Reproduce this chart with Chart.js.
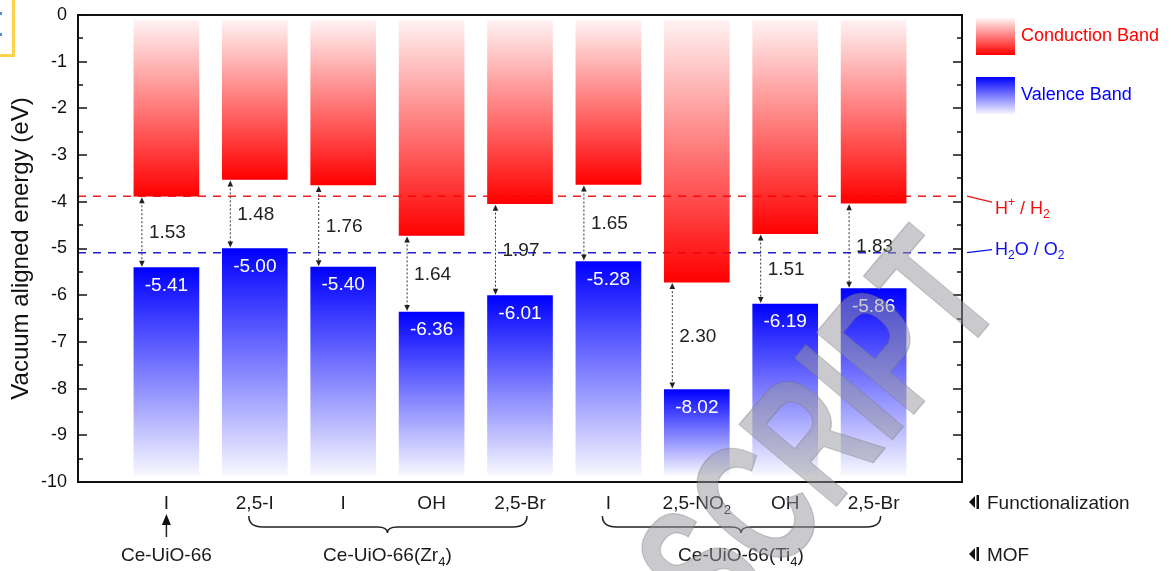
<!DOCTYPE html>
<html lang="en">
<head>
<meta charset="UTF-8">
<title>Band alignment of Ce-UiO-66 derivatives</title>
<script src="https://cdn.jsdelivr.net/npm/chart.js@4.4.1/dist/chart.umd.min.js"></script>
<style>
  html, body { margin: 0; padding: 0; background: #fff; }
  #wrap { width: 1171px; height: 571px; }
</style>
</head>
<body>
<div id="wrap"><canvas id="bandChart"></canvas></div>
<script>
// x order of the materials ("_x" = subscript, "^x" = superscript)
const functionalization = ['I', '2,5-I', 'I', 'OH', '2,5-Br', 'I', '2,5-NO_2', 'OH', '2,5-Br'];
// band edges, eV vs vacuum
const conductionBand = [-3.88, -3.52, -3.64, -4.72, -4.04, -3.63, -5.72, -4.68, -4.03];
const valenceBand = [-5.41, -5.00, -5.40, -6.36, -6.01, -5.28, -8.02, -6.19, -5.86];
const bandGap = [1.53, 1.48, 1.76, 1.64, 1.97, 1.65, 2.30, 1.51, 1.83];
// where the faded ends of the bars stop
const bandTop = -0.12;
const bandBottom = -9.85;
// redox levels
const refNames = ['H^+ / H_2', 'H_2O / O_2'];
const refValues = [-3.88, -5.09];
// MOF families (first / last index in the lists above)
const mofNames = ['Ce-UiO-66', 'Ce-UiO-66(Zr_4)', 'Ce-UiO-66(Ti_4)'];
const mofFirst = [0, 1, 5];
const mofLast = [0, 4, 8];
const yTicks = [0, -1, -2, -3, -4, -5, -6, -7, -8, -9, -10];

const FONT = '"Liberation Sans", Arial, sans-serif';
const RED = '#ff0000';
const BLUE = '#0000ff';
const BAR_W = 65;

Chart.defaults.font.family = FONT;

// text with one-character sub/superscripts, y is the baseline
function richText(ctx, str, x, y, size, align, color) {
  const parts = [];
  for (let i = 0; i < str.length; i++) {
    const ch = str[i];
    if ((ch === '_' || ch === '^') && i + 1 < str.length) {
      parts.push({ t: str[i + 1], m: ch });
      i++;
    } else {
      const last = parts[parts.length - 1];
      if (last && last.m === '') last.t += ch;
      else parts.push({ t: ch, m: '' });
    }
  }
  const small = Math.round(size * 0.68);
  let w = 0;
  parts.forEach(p => {
    ctx.font = (p.m ? small : size) + 'px ' + FONT;
    p.w = ctx.measureText(p.t).width;
    w += p.w;
  });
  let cx = align === 'center' ? x - w / 2 : align === 'right' ? x - w : x;
  ctx.fillStyle = color;
  ctx.textAlign = 'left';
  ctx.textBaseline = 'alphabetic';
  parts.forEach(p => {
    ctx.font = (p.m ? small : size) + 'px ' + FONT;
    const dy = p.m === '_' ? size * 0.26 : p.m === '^' ? -size * 0.4 : 0;
    ctx.fillText(p.t, cx, y + dy);
    cx += p.w;
  });
}

function cbFill(c) {
  const chart = c.chart;
  if (!chart.chartArea || c.dataIndex === undefined) return 'rgba(255,0,0,0.6)';
  const y = chart.scales.y;
  const g = chart.ctx.createLinearGradient(0, y.getPixelForValue(bandTop), 0, y.getPixelForValue(conductionBand[c.dataIndex]));
  g.addColorStop(0, 'rgba(255,0,0,0.05)');
  g.addColorStop(1, 'rgba(255,0,0,1)');
  return g;
}

function vbFill(c) {
  const chart = c.chart;
  if (!chart.chartArea || c.dataIndex === undefined) return 'rgba(0,0,255,0.6)';
  const y = chart.scales.y;
  const g = chart.ctx.createLinearGradient(0, y.getPixelForValue(valenceBand[c.dataIndex]), 0, y.getPixelForValue(bandBottom));
  g.addColorStop(0, 'rgba(0,0,255,1)');
  g.addColorStop(1, 'rgba(0,0,255,0.03)');
  return g;
}

function arrowHead(ctx, x, y, dir) {
  ctx.beginPath();
  ctx.moveTo(x, y);
  ctx.lineTo(x - 2.8, y - dir * 6);
  ctx.lineTo(x + 2.8, y - dir * 6);
  ctx.closePath();
  ctx.fill();
}

// dashed redox levels, behind the bars
const levelLines = {
  id: 'levelLines',
  beforeDatasetsDraw(chart) {
    const { ctx, chartArea: a, scales: { y } } = chart;
    ctx.save();
    ctx.lineWidth = 1.5;
    ctx.setLineDash([8, 7]);
    refValues.forEach((v, i) => {
      const py = y.getPixelForValue(v);
      ctx.strokeStyle = i === 0 ? '#f02020' : '#2020cc';
      ctx.beginPath();
      ctx.moveTo(a.left, py);
      ctx.lineTo(a.right, py);
      ctx.stroke();
    });
    ctx.restore();
  }
};

const decorations = {
  id: 'decorations',
  afterDraw(chart) {
    const { ctx, chartArea: a, scales: { x, y } } = chart;
    ctx.save();

    // frame with inward ticks
    ctx.strokeStyle = '#111';
    ctx.lineWidth = 2;
    ctx.strokeRect(a.left, a.top, a.right - a.left, a.bottom - a.top);
    ctx.lineWidth = 1.5;
    for (let v = 0; v >= -10; v -= 0.5) {
      const py = Math.round(y.getPixelForValue(v));
      const len = Number.isInteger(v) ? 9 : 5;
      ctx.beginPath();
      ctx.moveTo(a.left, py); ctx.lineTo(a.left + len, py);
      ctx.moveTo(a.right, py); ctx.lineTo(a.right - len, py);
      ctx.stroke();
    }

    // band gap arrows and labels
    valenceBand.forEach((vb, i) => {
      const cx = x.getPixelForValue(i + 1);
      const ax = cx - BAR_W / 2 + 8;
      const y1 = y.getPixelForValue(conductionBand[i]);
      const y2 = y.getPixelForValue(vb);
      ctx.strokeStyle = '#333';
      ctx.fillStyle = '#222';
      ctx.lineWidth = 1;
      ctx.setLineDash([2, 2]);
      ctx.beginPath();
      ctx.moveTo(ax, y1 + 5);
      ctx.lineTo(ax, y2 - 5);
      ctx.stroke();
      ctx.setLineDash([]);
      arrowHead(ctx, ax, y1 + 1, -1);
      arrowHead(ctx, ax, y2 - 1, 1);

      ctx.font = '19px ' + FONT;
      ctx.textAlign = 'left';
      ctx.textBaseline = 'middle';
      ctx.fillStyle = '#222';
      ctx.fillText(bandGap[i].toFixed(2), ax + 7, (y1 + y2) / 2 + 1);

      ctx.textAlign = 'center';
      ctx.fillStyle = '#fff';
      ctx.fillText(vb.toFixed(2), cx, y2 + 18);
    });

    // functionalization labels under the axis
    functionalization.forEach((f, i) => {
      richText(ctx, f, x.getPixelForValue(i + 1), 509, 19, 'center', '#1a1a1a');
    });

    // MOF families
    ctx.strokeStyle = '#222';
    ctx.fillStyle = '#111';
    ctx.lineWidth = 1.5;
    mofNames.forEach((name, k) => {
      const x1 = x.getPixelForValue(mofFirst[k] + 1);
      const x2 = x.getPixelForValue(mofLast[k] + 1);
      const xm = (x1 + x2) / 2;
      if (mofFirst[k] === mofLast[k]) {
        ctx.beginPath();
        ctx.moveTo(xm, 537);
        ctx.lineTo(xm, 522);
        ctx.stroke();
        ctx.beginPath();
        ctx.moveTo(xm, 514);
        ctx.lineTo(xm - 4.5, 525);
        ctx.lineTo(xm + 4.5, 525);
        ctx.closePath();
        ctx.fill();
      } else {
        const l = x1 - 6, r = x2 + 7, y0 = 516, yb = 527, yt = 533, rr = 14;
        ctx.beginPath();
        ctx.moveTo(l, y0);
        ctx.quadraticCurveTo(l, yb, l + rr, yb);
        ctx.lineTo(xm - 10, yb);
        ctx.quadraticCurveTo(xm, yb, xm, yt);
        ctx.quadraticCurveTo(xm, yb, xm + 10, yb);
        ctx.lineTo(r - rr, yb);
        ctx.quadraticCurveTo(r, yb, r, y0);
        ctx.stroke();
      }
      richText(ctx, name, xm, 561, 19, 'center', '#1a1a1a');
    });

    // row captions on the right
    [502, 554].forEach((cy, k) => {
      ctx.fillStyle = '#111';
      ctx.beginPath();
      ctx.moveTo(975, cy - 6);
      ctx.lineTo(975, cy + 6);
      ctx.lineTo(969, cy);
      ctx.closePath();
      ctx.fill();
      ctx.fillRect(976.5, cy - 7, 2.5, 14);
      richText(ctx, k === 0 ? 'Functionalization' : 'MOF', 987, cy + 7, 19, 'left', '#1a1a1a');
    });

    // redox level labels with leader lines
    refValues.forEach((v, i) => {
      const py = y.getPixelForValue(v);
      const col = i === 0 ? '#f01010' : '#1010ee';
      const ty = i === 0 ? 207 : 248;
      ctx.strokeStyle = col;
      ctx.lineWidth = 1.2;
      ctx.beginPath();
      ctx.moveTo(a.right + 5, py);
      ctx.lineTo(a.right + 30, i === 0 ? py + 6 : py - 3);
      ctx.stroke();
      richText(ctx, refNames[i], 995, ty + 6.5, 18, 'left', col);
    });

    // legend
    const boxes = [
      { top: 18, label: chart.data.datasets[0].label, col: RED, down: true },
      { top: 77, label: chart.data.datasets[1].label, col: BLUE, down: false }
    ];
    boxes.forEach(b => {
      const g = ctx.createLinearGradient(0, b.top, 0, b.top + 37);
      const solid = b.col === RED ? 'rgba(255,0,0,1)' : 'rgba(0,0,255,1)';
      const faint = b.col === RED ? 'rgba(255,0,0,0.04)' : 'rgba(0,0,255,0.04)';
      g.addColorStop(0, b.down ? faint : solid);
      g.addColorStop(1, b.down ? solid : faint);
      ctx.fillStyle = g;
      ctx.fillRect(976, b.top, 39, 37);
      ctx.font = '18px ' + FONT;
      ctx.fillStyle = b.col;
      ctx.textAlign = 'left';
      ctx.textBaseline = 'middle';
      ctx.fillText(b.label, 1021, b.top + 18);
    });

    // cut-off yellow box in the corner
    ctx.fillStyle = '#ffd24d';
    ctx.fillRect(12, 0, 3, 57);
    ctx.fillRect(0, 54, 15, 3);
    ctx.fillStyle = '#4a8fd0';
    ctx.fillRect(0, 12, 2, 3);
    ctx.fillRect(0, 33, 2, 3);

    // "ACCEPTED MANUSCRIPT" watermark fragment (narrow lettering)
    ctx.font = 'bold 185px ' + FONT;
    const pre = ctx.measureText('SCR').width;
    ctx.translate(887, 446);
    ctx.rotate(-50 * Math.PI / 180);
    ctx.scale(0.65, 1);
    ctx.textAlign = 'left';
    ctx.textBaseline = 'alphabetic';
    ctx.fillStyle = 'rgba(150,150,158,0.5)';
    ctx.fillText('SCRIPT', -pre, 0);
    ctx.strokeStyle = 'rgba(110,110,110,0.3)';
    ctx.lineWidth = 1.5;
    ctx.strokeText('SCRIPT', -pre, 0);

    ctx.restore();
  }
};

new Chart(document.getElementById('bandChart'), {
  type: 'bar',
  data: {
    datasets: [
      {
        label: 'Conduction Band',
        data: conductionBand.map((v, i) => ({ x: i + 1, y: [bandTop, v] })),
        backgroundColor: cbFill,
        borderWidth: 0,
        barThickness: BAR_W,
        grouped: false
      },
      {
        label: 'Valence Band',
        data: valenceBand.map((v, i) => ({ x: i + 1, y: [v, bandBottom] })),
        backgroundColor: vbFill,
        borderWidth: 0,
        barThickness: BAR_W,
        grouped: false
      }
    ]
  },
  options: {
    responsive: true,
    maintainAspectRatio: false,
    animation: false,
    devicePixelRatio: 1,
    layout: { padding: { top: 15, right: 209, bottom: 89, left: 0 } },
    plugins: {
      legend: { display: false },
      tooltip: { enabled: false }
    },
    scales: {
      x: { type: 'linear', min: 0, max: 10, offset: false, display: false },
      y: {
        min: -10,
        max: 0,
        afterBuildTicks: s => { s.ticks = yTicks.map(v => ({ value: v })); },
        afterFit: s => { s.width = 78; s.paddingTop = 0; s.paddingBottom = 0; },
        grid: { display: false, drawTicks: false },
        border: { display: false },
        ticks: { color: '#111', font: { size: 18 }, padding: 11 },
        title: {
          display: true,
          text: 'Vacuum aligned energy (eV)',
          color: '#111',
          font: { size: 24 },
          padding: { top: 7, bottom: 0 }
        }
      }
    }
  },
  plugins: [levelLines, decorations]
});
</script>
</body>
</html>
